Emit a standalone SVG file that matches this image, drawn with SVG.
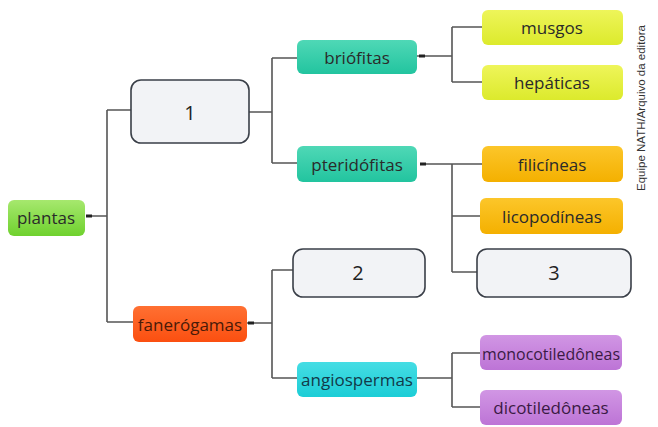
<svg xmlns="http://www.w3.org/2000/svg" width="658" height="427" viewBox="0 0 658 427">
<defs>
<linearGradient id="gGreen" x1="0" y1="0" x2="0" y2="1"><stop offset="0" stop-color="#a6e86e"/><stop offset="1" stop-color="#6fd12e"/></linearGradient>
<linearGradient id="gTeal" x1="0" y1="0" x2="0" y2="1"><stop offset="0" stop-color="#4fd8b6"/><stop offset="1" stop-color="#22c49f"/></linearGradient>
<linearGradient id="gYellow" x1="0" y1="0" x2="0" y2="1"><stop offset="0" stop-color="#eef55a"/><stop offset="1" stop-color="#dcea2c"/></linearGradient>
<linearGradient id="gOrange" x1="0" y1="0" x2="0" y2="1"><stop offset="0" stop-color="#fcc62a"/><stop offset="1" stop-color="#f4b000"/></linearGradient>
<linearGradient id="gRed" x1="0" y1="0" x2="0" y2="1"><stop offset="0" stop-color="#ff7032"/><stop offset="1" stop-color="#fb4f10"/></linearGradient>
<linearGradient id="gCyan" x1="0" y1="0" x2="0" y2="1"><stop offset="0" stop-color="#45dde4"/><stop offset="1" stop-color="#1ccdd6"/></linearGradient>
<linearGradient id="gPurple" x1="0" y1="0" x2="0" y2="1"><stop offset="0" stop-color="#d196e4"/><stop offset="1" stop-color="#bd74d6"/></linearGradient>
</defs>
<style>
.lbl{font-family:"Open Sans","Noto Sans",sans-serif;font-size:17px;fill:#2a2a2a;text-anchor:middle;dominant-baseline:central}
.num{font-family:"Open Sans","Noto Sans",sans-serif;font-size:20px;fill:#222;text-anchor:middle;dominant-baseline:central}
.blank{fill:#f2f3f6;stroke:#3a3f48;stroke-width:1.6}
.conn{fill:none;stroke:#555;stroke-width:1.6}
.tick{stroke:#222;stroke-width:3}
.credit{font-family:"Liberation Sans",Arial,sans-serif;font-size:11.5px;fill:#333;text-anchor:middle;dominant-baseline:central}
</style>
<rect width="658" height="427" fill="#ffffff"/>
<g id="connectors">
<path class="conn" d="M86,216 H107 M107,110 V322 M107,110 H131 M107,322 H133"/>
<path class="conn" d="M249,112 H272 M272,58 V163 M272,58 H297 M272,163 H297"/>
<path class="conn" d="M417,56 H452 M452,27 V82 M452,27 H482 M452,82 H482"/>
<path class="conn" d="M420,164 H482 M452,164 V272 M452,216 H480 M452,272 H477"/>
<path class="conn" d="M247,323 H272 M272,270 V378 M272,270 H293 M272,378 H297"/>
<path class="conn" d="M417,378 H452 M452,353 V407 M452,353 H480 M452,407 H480"/>
<path class="tick" d="M86,216 H92 M419,56 H425 M420,164 H426 M248,323 H254"/>
</g>
<g id="n-plantas"><rect x="8" y="200" width="77" height="36" rx="6" fill="url(#gGreen)"/><text class="lbl" x="46" y="217">plantas</text></g>
<g id="n-1"><rect class="blank" x="131" y="80" width="118" height="63" rx="10"/><text class="num" x="190" y="112">1</text></g>
<g id="n-briofitas"><rect x="297" y="40" width="120" height="34" rx="6" fill="url(#gTeal)"/><text class="lbl" x="357" y="57">briófitas</text></g>
<g id="n-pteridofitas"><rect x="297" y="146" width="120" height="36" rx="6" fill="url(#gTeal)"/><text class="lbl" x="357" y="164">pteridófitas</text></g>
<g id="n-musgos"><rect x="482" y="10" width="141" height="35" rx="6" fill="url(#gYellow)"/><text class="lbl" x="552" y="27">musgos</text></g>
<g id="n-hepaticas"><rect x="482" y="65" width="141" height="35" rx="6" fill="url(#gYellow)"/><text class="lbl" x="552" y="82">hepáticas</text></g>
<g id="n-filicineas"><rect x="482" y="146" width="141" height="36" rx="6" fill="url(#gOrange)"/><text class="lbl" x="552" y="164">filicíneas</text></g>
<g id="n-licopodineas"><rect x="480" y="198" width="143" height="36" rx="6" fill="url(#gOrange)"/><text class="lbl" x="552" y="216">licopodíneas</text></g>
<g id="n-3"><rect class="blank" x="477" y="249" width="154" height="48" rx="10"/><text class="num" x="554" y="272">3</text></g>
<g id="n-fanerogamas"><rect x="133" y="306" width="114" height="36" rx="6" fill="url(#gRed)"/><text class="lbl" x="190" y="324" style="fill:#4a1a08">fanerógamas</text></g>
<g id="n-2"><rect class="blank" x="293" y="249" width="132" height="48" rx="10"/><text class="num" x="358" y="272">2</text></g>
<g id="n-angiospermas"><rect x="297" y="362" width="120" height="35" rx="6" fill="url(#gCyan)"/><text class="lbl" x="357" y="379" style="fill:#123a4a">angiospermas</text></g>
<g id="n-monocotiledoneas"><rect x="480" y="335" width="142" height="35" rx="6" fill="url(#gPurple)"/><text class="lbl" x="551" y="353" style="fill:#3a1a44" textLength="138" lengthAdjust="spacingAndGlyphs">monocotiledôneas</text></g>
<g id="n-dicotiledoneas"><rect x="480" y="390" width="142" height="35" rx="6" fill="url(#gPurple)"/><text class="lbl" x="551" y="407" style="fill:#3a1a44">dicotiledôneas</text></g>
<text class="credit" transform="translate(641,108) rotate(-90)">Equipe NATH/Arquivo da editora</text>
</svg>
